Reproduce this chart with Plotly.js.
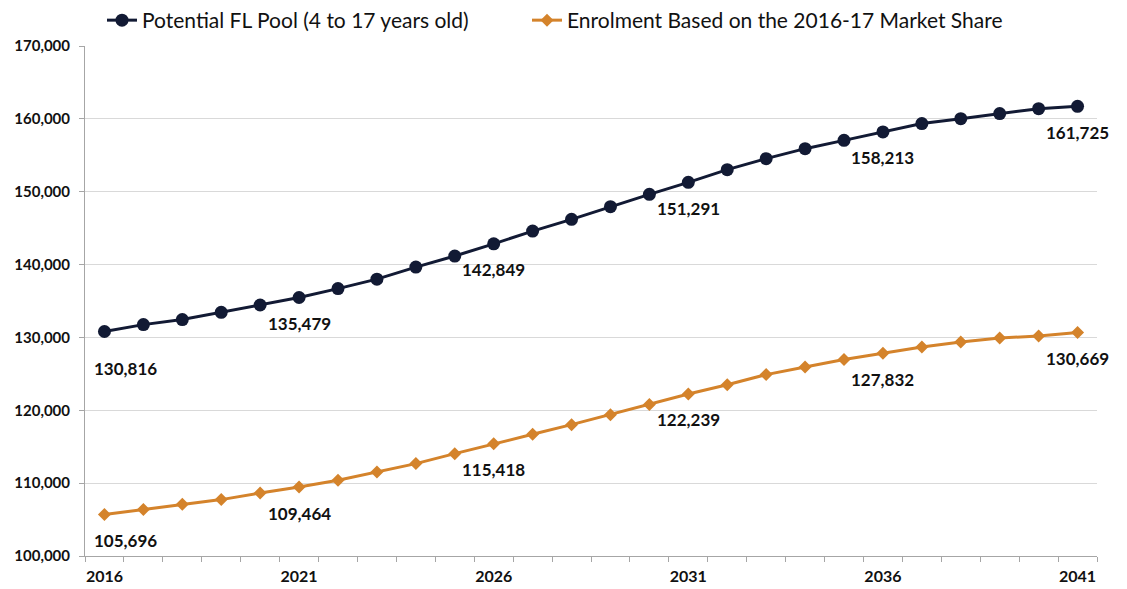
<!DOCTYPE html>
<html>
<head>
<meta charset="utf-8">
<script src="https://cdn.plot.ly/plotly-3.0.1.min.js"></script>
<style>
  html, body { margin: 0; padding: 0; background: #ffffff; }
  #chart { width: 1127px; height: 589px; }
</style>
</head>
<body>
<div id="chart"></div>
<script>
// School years 2016 .. 2041
const years = [2016, 2017, 2018, 2019, 2020, 2021, 2022, 2023, 2024, 2025, 2026, 2027, 2028,
               2029, 2030, 2031, 2032, 2033, 2034, 2035, 2036, 2037, 2038, 2039, 2040, 2041];

// Potential French-language pool, children aged 4 to 17
const flPool = [130816, 131760, 132450, 133450, 134450, 135479, 136700, 138000, 139650, 141170,
                142849, 144600, 146210, 147950, 149640, 151291, 153030, 154540, 155910, 157050,
                158213, 159350, 160030, 160720, 161400, 161725];

// Enrolment projected at the 2016-17 market share
const enrolment = [105696, 106370, 107090, 107740, 108650, 109464, 110390, 111530, 112680, 114050,
                   115418, 116700, 118030, 119400, 120780, 122239, 123500, 124900, 125940, 126960,
                   127832, 128690, 129370, 129920, 130200, 130669];

// Years whose values are printed under the markers
const labelYears = [2016, 2021, 2026, 2031, 2036, 2041];

const seriesNames = ['Potential FL Pool (4 to 17 years old)', 'Enrolment Based on the 2016-17 Market Share'];
const navy = '#121a34';
const amber = '#d4832b';

const fmt = v => v.toLocaleString('en-US');

const traces = [
  {
    x: years, y: flPool, name: seriesNames[0], type: 'scatter', mode: 'lines+markers',
    legend: 'legend',
    line: { color: navy, width: 3 },
    marker: { symbol: 'circle', size: 13, color: navy }
  },
  {
    x: years, y: enrolment, name: seriesNames[1], type: 'scatter', mode: 'lines+markers',
    legend: 'legend2',
    line: { color: amber, width: 3 },
    marker: { symbol: 'diamond', size: 10, color: amber }
  }
];

// Value labels below selected markers; the first pool label sits a little lower and to the right
const annotations = [];
[flPool, enrolment].forEach((series, s) => {
  labelYears.forEach((yr, k) => {
    const i = years.indexOf(yr);
    const first = k === 0;
    annotations.push({
      x: yr, y: series[i], xref: 'x', yref: 'y',
      text: fmt(series[i]), showarrow: false,
      xshift: first ? 21 : 0,
      yshift: first && s === 0 ? -37 : -26,
      font: { family: 'Lato, sans-serif', size: 17, color: '#111111', weight: 'bold' }
    });
  });
});

// One legend box per series, side by side above the plot
const legendBase = {
  orientation: 'h', xref: 'container', xanchor: 'left',
  yref: 'container', y: 1, yanchor: 'top',
  font: { family: 'Lato, sans-serif', size: 21, color: '#111111' },
  bgcolor: 'rgba(0,0,0,0)'
};

const layout = {
  width: 1127, height: 589,
  margin: { l: 85, r: 30, t: 46, b: 33 },
  paper_bgcolor: '#ffffff', plot_bgcolor: '#ffffff',
  font: { family: 'Lato, sans-serif', color: '#111111' },
  showlegend: true,
  legend: Object.assign({}, legendBase, { x: 102 / 1127 }),
  legend2: Object.assign({}, legendBase, { x: 527 / 1127 }),
  xaxis: {
    range: [2015.5, 2041.5],
    tickvals: labelYears,
    ticktext: labelYears.map(String),
    ticks: '', showgrid: false, zeroline: false,
    showline: true, linecolor: '#a6a6a6', linewidth: 1,
    ticklabelstandoff: 6,
    tickfont: { family: 'Lato, sans-serif', size: 16, color: '#111111', weight: 'bold' },
    minor: { tick0: 2015.5, dtick: 1, ticks: 'outside', ticklen: 5, tickcolor: '#a6a6a6', showgrid: false }
  },
  yaxis: {
    range: [100000, 170000], dtick: 10000, tickformat: ',d',
    ticks: 'outside', ticklen: 5, tickcolor: '#a6a6a6',
    showgrid: true, gridcolor: '#d9d9d9', gridwidth: 1, zeroline: false,
    showline: true, linecolor: '#a6a6a6', linewidth: 1,
    ticklabelstandoff: 6,
    tickfont: { family: 'Lato, sans-serif', size: 15, color: '#111111', weight: 'bold' }
  },
  annotations: annotations
};

Plotly.newPlot('chart', traces, layout, { staticPlot: true, displayModeBar: false });
</script>
</body>
</html>
